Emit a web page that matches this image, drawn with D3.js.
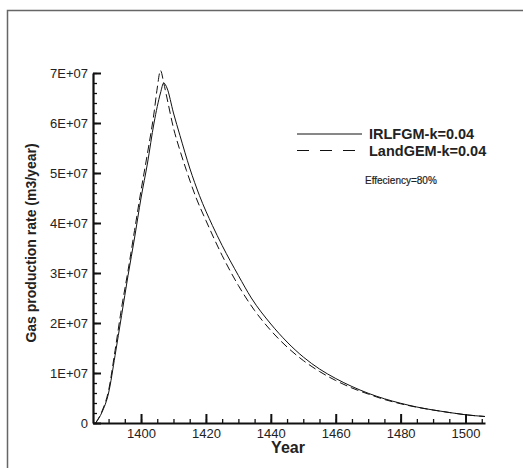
<!DOCTYPE html>
<html>
<head>
<meta charset="utf-8">
<script src="https://cdn.jsdelivr.net/npm/d3@7"></script>
<style>
body { margin: 0; background: #fff; }
text { font-family: "Liberation Sans", Arial, sans-serif; }
</style>
</head>
<body>
<script>
var w = 523;
var h = 468;

// data
var irlYears = [1386, 1388, 1390, 1392, 1394, 1396, 1398, 1400, 1402, 1404, 1406, 1407, 1408, 1410, 1412, 1415, 1418, 1422, 1425, 1430, 1434, 1440, 1445, 1450, 1455, 1460, 1465, 1470, 1475, 1480, 1485, 1490, 1495, 1500, 1506];
var irlRate = [0, 2.2e6, 6.0e6, 1.35e7, 2.15e7, 2.95e7, 3.7e7, 4.5e7, 5.2e7, 6.0e7, 6.6e7, 6.8e7, 6.7e7, 6.2e7, 5.75e7, 5.1e7, 4.55e7, 3.95e7, 3.55e7, 2.95e7, 2.5e7, 1.98e7, 1.62e7, 1.32e7, 1.08e7, 8.9e6, 7.3e6, 5.95e6, 4.85e6, 3.95e6, 3.2e6, 2.6e6, 2.1e6, 1.65e6, 1.3e6];
var landYears = [1386, 1388, 1390, 1392, 1394, 1396, 1398, 1400, 1402, 1404, 1405, 1406, 1407, 1408, 1410, 1412, 1414, 1417, 1420, 1425, 1430, 1435, 1440, 1445, 1450, 1455, 1460, 1465, 1470, 1475, 1480, 1485, 1490, 1495, 1500, 1506];
var landRate = [0, 2.4e6, 6.5e6, 1.45e7, 2.3e7, 3.05e7, 3.85e7, 4.65e7, 5.4e7, 6.2e7, 6.7e7, 7.05e7, 6.8e7, 6.5e7, 5.9e7, 5.45e7, 5.05e7, 4.5e7, 4.05e7, 3.35e7, 2.75e7, 2.25e7, 1.85e7, 1.52e7, 1.25e7, 1.03e7, 8.5e6, 7.0e6, 5.8e6, 4.7e6, 3.85e6, 3.15e6, 2.6e6, 2.1e6, 1.65e6, 1.3e6];
var xTicks = [1400, 1420, 1440, 1460, 1480, 1500];
var yTicks = [0, 1e7, 2e7, 3e7, 4e7, 5e7, 6e7, 7e7];
var yTickLabels = ["0", "1E+07", "2E+07", "3E+07", "4E+07", "5E+07", "6E+07", "7E+07"];

var svg = d3.select("body")
  .append("svg")
  .attr("width", w)
  .attr("height", h);

// outer frame
svg.append("path")
  .attr("d", "M7.5," + h + " V10.5 H" + w)
  .attr("fill", "none")
  .attr("stroke", "#666")
  .attr("stroke-width", 1.5);

var x = d3.scaleLinear().domain([1385.2, 1506]).range([93, 485]);
var y = d3.scaleLinear().domain([0, 7e7]).range([423, 73]);

// minor ticks
svg.append("g")
  .attr("transform", "translate(0,423)")
  .call(d3.axisBottom(x).tickValues(d3.range(1390, 1506, 5)).tickSize(-4).tickFormat(""))
  .call(function(g) { g.select(".domain").remove(); });
svg.append("g")
  .attr("transform", "translate(93,0)")
  .call(d3.axisLeft(y).tickValues(d3.range(0, 7.01e7, 2e6)).tickSize(-4).tickFormat(""))
  .call(function(g) { g.select(".domain").remove(); });

// major axes
var xAxis = svg.append("g")
  .attr("transform", "translate(0,423)")
  .call(d3.axisBottom(x).tickValues(xTicks).tickSize(-9).tickSizeOuter(0).tickPadding(6).tickFormat(d3.format("d")));
var yAxis = svg.append("g")
  .attr("transform", "translate(93,0)")
  .call(d3.axisLeft(y).tickValues(yTicks).tickSize(-8).tickSizeOuter(0).tickPadding(5)
    .tickFormat(function(d, i) { return yTickLabels[i]; }));

svg.selectAll(".tick line").attr("stroke", "#111").attr("stroke-width", 1.3);
xAxis.selectAll(".tick line").attr("stroke-width", 2);
yAxis.selectAll(".tick line").attr("stroke-width", 2);
svg.selectAll(".domain").attr("stroke", "#111").attr("stroke-width", 2.2);
xAxis.selectAll("text").attr("font-size", 13).attr("fill", "#222");
yAxis.selectAll("text").attr("font-size", 13).attr("fill", "#222");

// axis titles
svg.append("text")
  .attr("x", 288)
  .attr("y", 453)
  .attr("text-anchor", "middle")
  .attr("font-size", 16)
  .attr("font-weight", "bold")
  .attr("fill", "#222")
  .text("Year");
svg.append("text")
  .attr("transform", "translate(36,243) rotate(-90)")
  .attr("text-anchor", "middle")
  .attr("font-size", 14)
  .attr("font-weight", "bold")
  .attr("fill", "#222")
  .text("Gas production rate (m3/year)");

// curves
var line = d3.line()
  .x(function(d) { return x(d[0]); })
  .y(function(d) { return y(d[1]); })
  .curve(d3.curveMonotoneX);

svg.append("path")
  .datum(d3.zip(irlYears, irlRate))
  .attr("d", line)
  .attr("fill", "none")
  .attr("stroke", "#111")
  .attr("stroke-width", 1);

svg.append("path")
  .datum(d3.zip(landYears, landRate))
  .attr("d", line)
  .attr("fill", "none")
  .attr("stroke", "#111")
  .attr("stroke-width", 1)
  .attr("stroke-dasharray", "8,4");

// legend
svg.append("line")
  .attr("x1", 297).attr("x2", 362)
  .attr("y1", 134).attr("y2", 134)
  .attr("stroke", "#111").attr("stroke-width", 1);
svg.append("line")
  .attr("x1", 297).attr("x2", 362)
  .attr("y1", 150.5).attr("y2", 150.5)
  .attr("stroke", "#111").attr("stroke-width", 1)
  .attr("stroke-dasharray", "12,11");
svg.append("text")
  .attr("x", 369).attr("y", 139)
  .attr("font-size", 14.5).attr("font-weight", "bold").attr("fill", "#222")
  .text("IRLFGM-k=0.04");
svg.append("text")
  .attr("x", 369).attr("y", 156)
  .attr("font-size", 14.5).attr("font-weight", "bold").attr("fill", "#222")
  .text("LandGEM-k=0.04");
svg.append("text")
  .attr("x", 365).attr("y", 184)
  .attr("font-size", 10).attr("fill", "#222")
  .attr("stroke", "#222").attr("stroke-width", 0.2)
  .text("Effeciency=80%");
</script>
</body>
</html>
